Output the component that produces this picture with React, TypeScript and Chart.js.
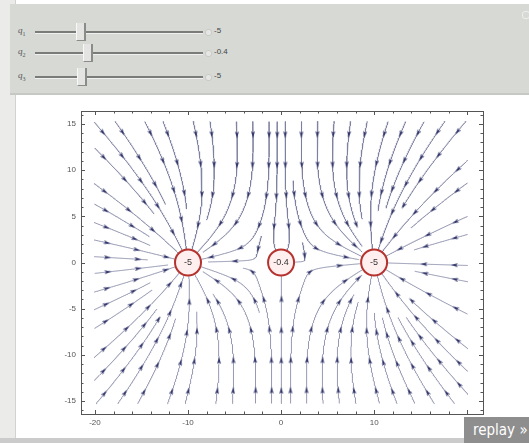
import React, { useEffect, useRef } from "react";
import { Chart, registerables } from "chart.js";
Chart.register(...registerables);

// ---- data ----
const chargeX = [-10, 0, 10];
const chargeY = [0, 0, 0];
const chargeQ = [-5, -0.4, -5];
const chargeLabels = ["-5", "-0.4", "-5"];
const sliderNames = ["1", "2", "3"];
const sliderValues = ["-5", "-0.4", "-5"];
const xLabelTicks = [-20, -10, 0, 10];
const yLabelTicks = [-15, -10, -5, 0, 5, 10, 15];
const xRange = [-21.5, 21.7];
const yRange = [-16.4, 16.4];

// ---- field lines derived from the charges ----
function field(x: number, y: number): [number, number] {
  let ex = 0, ey = 0;
  for (let i = 0; i < chargeX.length; i++) {
    const dx = x - chargeX[i], dy = y - chargeY[i];
    const r2 = dx * dx + dy * dy;
    const r3 = r2 * Math.sqrt(r2) + 1e-12;
    ex += (chargeQ[i] * dx) / r3;
    ey += (chargeQ[i] * dy) / r3;
  }
  return [ex, ey];
}

type Pt = [number, number];

function computeStreams() {
  const xmin = -20.1, xmax = 20.1, ymin = -15.3, ymax = 15.3;
  const dsep = 1.75, dtest = 0.45 * dsep, h = 0.08, rStop = 1.5;
  const cell = dtest;
  const grid = new Map<string, { x: number; y: number; id: number }[]>();
  const key = (i: number, j: number) => i + "," + j;
  const add = (x: number, y: number, id: number) => {
    const k = key(Math.floor(x / cell), Math.floor(y / cell));
    let a = grid.get(k);
    if (!a) { a = []; grid.set(k, a); }
    a.push({ x, y, id });
  };
  const near = (x: number, y: number, d: number, id: number) => {
    const ci = Math.floor(x / cell), cj = Math.floor(y / cell);
    const r = Math.ceil(d / cell);
    const d2 = d * d;
    for (let i = ci - r; i <= ci + r; i++)
      for (let j = cj - r; j <= cj + r; j++) {
        const a = grid.get(key(i, j));
        if (!a) continue;
        for (const p of a) {
          if (p.id === id) continue;
          const dx = p.x - x, dy = p.y - y;
          if (dx * dx + dy * dy < d2) return true;
        }
      }
    return false;
  };
  const chargeDist = (x: number, y: number) => {
    let m = 1e9;
    for (let i = 0; i < chargeX.length; i++) m = Math.min(m, Math.hypot(x - chargeX[i], y - chargeY[i]));
    return m;
  };
  const dir = (x: number, y: number, s: number): Pt | null => {
    const [ex, ey] = field(x, y);
    const m = Math.hypot(ex, ey);
    if (m < 1e-7) return null;
    return [(s * ex) / m, (s * ey) / m];
  };
  const trace = (x0: number, y0: number, s: number, id: number) => {
    const pts: Pt[] = [];
    let x = x0, y = y0;
    for (let k = 0; k < 4000; k++) {
      const d1 = dir(x, y, s);
      if (!d1) break;
      const d2 = dir(x + 0.5 * h * d1[0], y + 0.5 * h * d1[1], s);
      if (!d2) break;
      if (d1[0] * d2[0] + d1[1] * d2[1] < 0.5) break;
      const nx = x + h * d2[0], ny = y + h * d2[1];
      if (nx < xmin || nx > xmax || ny < ymin || ny > ymax) break;
      if (chargeDist(nx, ny) < rStop) { pts.push([nx, ny]); break; }
      const cd = chargeDist(nx, ny);
      const dt = cd < 4 ? dtest * Math.max(0.55, cd / 4) : dtest;
      if (near(nx, ny, dt, id)) break;
      x = nx; y = ny;
      pts.push([x, y]);
    }
    return pts;
  };
  const valid = (x: number, y: number) =>
    x > xmin && x < xmax && y > ymin && y < ymax && chargeDist(x, y) > rStop + 0.4 && !near(x, y, dsep * 0.95, -1);

  const lines: Pt[][] = [];
  const queue: Pt[] = [];
  const gridSeeds: Pt[] = [];
  for (let y = 14.5; y >= -14.5; y -= dsep) for (let x = -19.5; x <= 19.5; x += dsep) gridSeeds.push([x, y]);
  let gi = 0;
  let id = 0;
  while (true) {
    let seed: Pt | undefined;
    while (queue.length) {
      const c = queue.shift()!;
      if (valid(c[0], c[1])) { seed = c; break; }
    }
    if (!seed) {
      while (gi < gridSeeds.length) {
        const c = gridSeeds[gi++];
        if (valid(c[0], c[1])) { seed = c; break; }
      }
    }
    if (!seed) break;
    id++;
    const back = trace(seed[0], seed[1], -1, id).reverse();
    const fwd = trace(seed[0], seed[1], 1, id);
    const line: Pt[] = [...back, seed, ...fwd];
    if (line.length * h < 1.2) continue;
    lines.push(line);
    for (let i = 0; i < line.length; i++) add(line[i][0], line[i][1], id);
    for (let i = 0; i < line.length - 1; i += 6) {
      const [x, y] = line[i];
      const dx = line[i + 1][0] - x, dy = line[i + 1][1] - y;
      const m = Math.hypot(dx, dy) || 1;
      queue.push([x - (dy / m) * dsep, y + (dx / m) * dsep]);
      queue.push([x + (dy / m) * dsep, y - (dx / m) * dsep]);
    }
  }
  // arrowheads along lines
  const arrows: { x: number; y: number }[] = [];
  const rot: number[] = [];
  const spacing = 3.3;
  for (const line of lines) {
    let s = 0, next = 1.4;
    for (let i = 1; i < line.length; i++) {
      const dx = line[i][0] - line[i - 1][0], dy = line[i][1] - line[i - 1][1];
      s += Math.hypot(dx, dy);
      if (s >= next) {
        if (chargeDist(line[i][0], line[i][1]) > 2.3) {
          arrows.push({ x: line[i][0], y: line[i][1] });
          rot.push((Math.atan2(dx * 9.3, dy * 9.25) * 180) / Math.PI);
        }
        next += spacing;
      }
    }
  }
  return { lines, arrows, rot };
}

function makeArrow() {
  const c = document.createElement("canvas");
  c.width = 4; c.height = 7;
  const g = c.getContext("2d")!;
  g.fillStyle = "#33376b";
  g.beginPath();
  g.moveTo(2, 0);
  g.lineTo(4, 7);
  g.lineTo(2, 5.5);
  g.lineTo(0, 7);
  g.closePath();
  g.fill();
  return c;
}

const framePlugin = {
  id: "frame",
  afterDatasetsDraw(chart: any) {
    const { ctx, chartArea: a, scales } = chart;
    const xs = scales.x, ys = scales.y;
    ctx.save();
    ctx.strokeStyle = "#555";
    ctx.lineWidth = 1;
    ctx.strokeRect(a.left + 0.5, a.top + 0.5, a.right - a.left, a.bottom - a.top);
    ctx.beginPath();
    for (let v = -20; v <= 20; v += 2) {
      const px = Math.round(xs.getPixelForValue(v)) + 0.5;
      const L = v % 10 === 0 ? 4 : 2.5;
      ctx.moveTo(px, a.bottom); ctx.lineTo(px, a.bottom - L);
      ctx.moveTo(px, a.top); ctx.lineTo(px, a.top + L);
    }
    for (let v = -16; v <= 16; v += 1) {
      const py = Math.round(ys.getPixelForValue(v)) + 0.5;
      const L = v % 5 === 0 ? 4 : 2.5;
      ctx.moveTo(a.left, py); ctx.lineTo(a.left + L, py);
      ctx.moveTo(a.right, py); ctx.lineTo(a.right - L, py);
    }
    ctx.stroke();
    // charge labels
    ctx.fillStyle = "#333";
    ctx.font = "9px 'Liberation Sans', sans-serif";
    ctx.textAlign = "center";
    ctx.textBaseline = "middle";
    for (let i = 0; i < chargeX.length; i++) {
      ctx.fillText(chargeLabels[i], xs.getPixelForValue(chargeX[i]), ys.getPixelForValue(chargeY[i]) + 0.5);
    }
    ctx.restore();
  },
};

function StreamChart() {
  const ref = useRef<HTMLCanvasElement>(null);
  useEffect(() => {
    const { lines, arrows, rot } = computeStreams();
    const datasets: any[] = [
      {
        data: chargeX.map((x, i) => ({ x, y: chargeY[i] })),
        pointStyle: "circle",
        pointRadius: 13,
        borderWidth: 2,
        borderColor: "#b5322e",
        backgroundColor: "rgba(255,225,225,0.55)",
        order: 0,
      },
      {
        data: arrows,
        pointStyle: makeArrow(),
        pointRotation: rot,
        pointRadius: 4,
        order: 1,
      },
      ...lines.map((l) => ({
        data: l.map((p) => ({ x: p[0], y: p[1] })),
        showLine: true,
        pointRadius: 0,
        borderColor: "#7b7f9e",
        borderWidth: 0.8,
        order: 2,
      })),
    ];
    const chart = new Chart(ref.current!, {
      type: "scatter",
      data: { datasets },
      options: {
        animation: false,
        responsive: false,
        events: [],
        layout: { padding: { top: 14, right: 46, left: 0, bottom: 0 } },
        plugins: { legend: { display: false }, tooltip: { enabled: false } },
        scales: {
          x: {
            type: "linear",
            min: xRange[0],
            max: xRange[1],
            grid: { display: false, drawTicks: false },
            border: { display: false },
            afterFit: (s: any) => { s.height = 24; },
            afterBuildTicks: (s: any) => { s.ticks = xLabelTicks.map((v) => ({ value: v })); },
            ticks: { color: "#555", padding: 4, font: { size: 8, family: "'Liberation Sans', sans-serif" }, maxRotation: 0 },
          },
          y: {
            type: "linear",
            min: yRange[0],
            max: yRange[1],
            grid: { display: false, drawTicks: false },
            border: { display: false },
            afterFit: (s: any) => { s.width = 81; },
            afterBuildTicks: (s: any) => { s.ticks = yLabelTicks.map((v) => ({ value: v })); },
            ticks: { color: "#555", padding: 5, font: { size: 8, family: "'Liberation Sans', sans-serif" } },
          },
        },
      },
      plugins: [framePlugin],
    });
    return () => chart.destroy();
  }, []);
  return <canvas ref={ref} width={529} height={342} style={{ position: "absolute", left: 0, top: 96, width: 529, height: 342 }} />;
}

const rowTops = [32, 53, 77];
const thumbLefts = [80, 87, 81];

export default function App() {
  return (
    <div style={{ position: "absolute", left: 0, top: 0, width: 529, height: 443, background: "#ffffff", overflow: "hidden", fontFamily: "'Liberation Sans', sans-serif" }}>
      <div style={{ position: "absolute", left: 0, top: 0, width: 15, height: 443, background: "#ebebea", borderRight: "1px solid #d2d2d0" }} />
      <div style={{ position: "absolute", left: 10, top: 4, width: 519, height: 89, background: "#d7d9d5", borderBottom: "2px solid #c6c8c4" }} />
      <div style={{ position: "absolute", left: 522, top: 11, width: 6, height: 6, borderRadius: 3, border: "1px solid #eee" }} />
      {sliderNames.map((n, i) => (
        <React.Fragment key={i}>
          <div style={{ position: "absolute", left: 18, top: rowTops[i] - 7, fontSize: 9, color: "#555", fontFamily: "'Liberation Serif', serif" }}>
            <i>q</i><sub style={{ fontSize: 6 }}>{n}</sub>
          </div>
          <div style={{ position: "absolute", left: 35, top: rowTops[i] - 1, width: 168, height: 2, background: "#7a7c79", borderBottom: "1px solid #f0f0f0" }} />
          <div style={{ position: "absolute", left: thumbLefts[i] - 4, top: rowTops[i] - 9, width: 7, height: 17, background: "#e4e5e2", borderLeft: "1px solid #f8f8f8", borderRight: "2px solid #8a8c89", borderBottom: "1px solid #8a8c89" }} />
          <div style={{ position: "absolute", left: 205, top: rowTops[i] - 3, width: 5, height: 5, borderRadius: 3, border: "1px solid #c8cac6", background: "#e6e7e4" }} />
          <div style={{ position: "absolute", left: 214, top: rowTops[i] - 6, fontSize: 8, color: "#444" }}>{sliderValues[i]}</div>
        </React.Fragment>
      ))}
      <StreamChart />
      <div style={{ position: "absolute", left: 0, top: 438, width: 529, height: 5, background: "#cbcbcb" }} />
      <div style={{ position: "absolute", left: 464, top: 417, width: 65, height: 26, background: "#8e8e8e", color: "#fff", fontSize: 15, lineHeight: "26px", paddingLeft: 9, fontFamily: "'DejaVu Sans Condensed', 'DejaVu Sans', sans-serif", whiteSpace: "nowrap" }}>
        replay »
      </div>
    </div>
  );
}
